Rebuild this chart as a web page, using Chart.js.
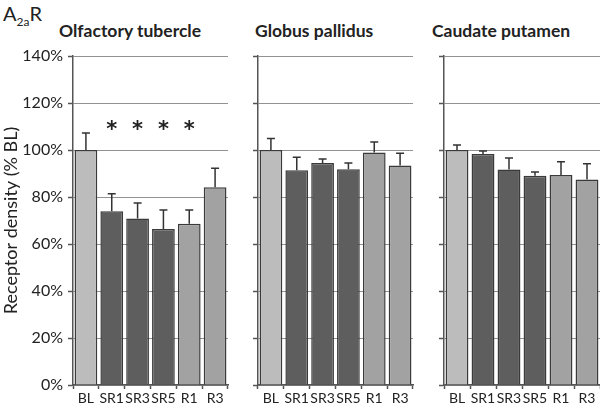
<!DOCTYPE html>
<html>
<head>
<meta charset="utf-8">
<script src="https://cdn.jsdelivr.net/npm/chart.js@4"></script>
<style>
body{margin:0;background:#fff;}
#wrap{position:relative;width:600px;height:406px;font-family:Lato, sans-serif;color:#222;overflow:hidden;}
canvas{position:absolute;top:0;}
.ptitle{position:absolute;top:20px;font-weight:bold;font-size:17.5px;white-space:nowrap;}
#label{position:absolute;left:3px;top:1px;font-size:20px;}
#label sub{font-size:12px;vertical-align:-5px;}
</style>
</head>
<body>
<div id="wrap">
  <div id="label">A<sub>2a</sub>R</div>
  <div class="ptitle" style="left:59px">Olfactory tubercle</div>
  <div class="ptitle" style="left:255px">Globus pallidus</div>
  <div class="ptitle" style="left:432px">Caudate putamen</div>
  <canvas id="c1" width="232" height="406" style="left:0"></canvas>
  <canvas id="c2" width="185" height="406" style="left:232px"></canvas>
  <canvas id="c3" width="183" height="406" style="left:417px"></canvas>
</div>
<script>
const categories = ['BL', 'SR1', 'SR3', 'SR5', 'R1', 'R3'];

const olfactory = [100, 73.9, 70.8, 66.4, 68.6, 84.1];
const olfactoryErr = [7.2, 7.5, 6.6, 8.1, 5.9, 8.1];
const olfactorySig = [false, true, true, true, true, false];

const pallidus = [100, 91.4, 94.5, 91.8, 98.9, 93.4];
const pallidusErr = [4.9, 5.5, 1.7, 2.7, 4.5, 5.2];

const caudate = [100, 98.3, 91.7, 89.0, 89.4, 87.4];
const caudateErr = [2.1, 1.3, 4.9, 1.6, 5.6, 6.7];

const barColors = ['#bcbcbc', '#5e5e5e', '#5e5e5e', '#5e5e5e', '#a2a2a2', '#a2a2a2'];

// error bars + significance stars, drawn on top of the bars
const errorBars = {
    id: 'errorBars',
    afterDatasetsDraw(chart, args, opts) {
        const ctx = chart.ctx;
        const y = chart.scales.y;
        const meta = chart.getDatasetMeta(0);
        const vals = chart.data.datasets[0].data;
        ctx.save();
        ctx.strokeStyle = '#333';
        ctx.lineWidth = 1.5;
        opts.err.forEach((e, i) => {
            const bx = meta.data[i].x;
            const top = y.getPixelForValue(vals[i] + e);
            const base = y.getPixelForValue(vals[i]);
            ctx.beginPath();
            ctx.moveTo(bx, base);
            ctx.lineTo(bx, top);
            ctx.moveTo(bx - 4, top);
            ctx.lineTo(bx + 4, top);
            ctx.stroke();
        });
        if (opts.stars) {
            ctx.fillStyle = '#222';
            ctx.font = 'bold 21px "DejaVu Sans"';
            ctx.textAlign = 'center';
            ctx.textBaseline = 'alphabetic';
            opts.stars.forEach((s, i) => {
                if (s) ctx.fillText('*', meta.data[i].x, y.getPixelForValue(106));
            });
        }
        ctx.restore();
    }
};

function makePanel(id, values, errs, stars, yWidth, rightPad, showLabels) {
    return new Chart(document.getElementById(id), {
        type: 'bar',
        data: {
            labels: categories,
            datasets: [{
                data: values,
                backgroundColor: barColors,
                borderColor: '#3a3a3a',
                borderWidth: 1.5,
                barPercentage: 0.88,
                categoryPercentage: 1
            }]
        },
        options: {
            responsive: false,
            animation: false,
            layout: { padding: { top: 56, bottom: 0, left: 0, right: rightPad } },
            plugins: {
                legend: { display: false },
                tooltip: { enabled: false },
                errorBars: { err: errs, stars: stars }
            },
            scales: {
                x: {
                    grid: { offset: true, drawOnChartArea: false, tickLength: 4, tickColor: '#555', tickWidth: 1.5 },
                    border: { color: '#555', width: 1.5 },
                    ticks: { font: { family: 'Lato', size: 14 }, color: '#222', padding: 1, maxRotation: 0, autoSkip: false },
                    afterFit: s => { s.height = 21; }
                },
                y: {
                    min: 0,
                    max: 140,
                    ticks: {
                        stepSize: 20,
                        display: showLabels,
                        callback: v => v + '%',
                        font: { family: 'Lato', size: 16 },
                        color: '#222',
                        padding: 5
                    },
                    grid: { color: '#929292', lineWidth: 1, tickLength: 5, tickColor: '#555', tickWidth: 1.5 },
                    border: { color: '#555', width: 1.5 },
                    title: {
                        display: showLabels,
                        text: 'Receptor density (% BL)',
                        font: { family: 'Lato', size: 18 },
                        color: '#222',
                        padding: 0
                    },
                    afterFit: s => { s.width = yWidth; }
                }
            }
        },
        plugins: [errorBars]
    });
}

makePanel('c1', olfactory, olfactoryErr, olfactorySig, 73, 4, true);
makePanel('c2', pallidus, pallidusErr, null, 26, 4, false);
makePanel('c3', caudate, caudateErr, null, 27, 0, false);
</script>
</body>
</html>
